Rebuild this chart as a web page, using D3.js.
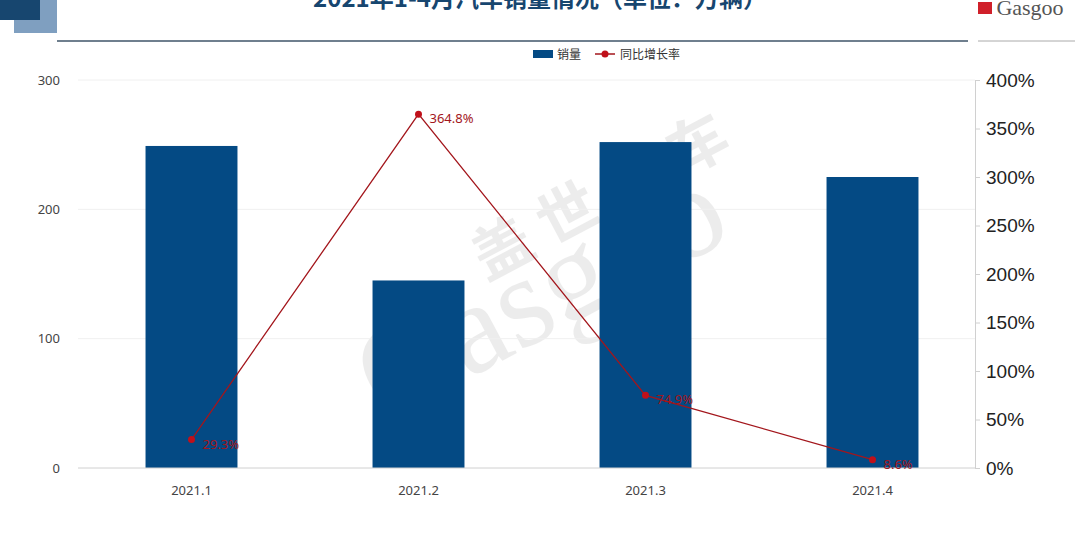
<!DOCTYPE html>
<html><head><meta charset="utf-8">
<script src="https://cdn.jsdelivr.net/npm/d3@7"></script>
<style>body{margin:0;background:#fff;font-family:"Noto Sans CJK SC","Noto Sans",sans-serif}</style>
</head><body><svg id="chart"></svg>
<script>
const months = ["2021.1", "2021.2", "2021.3", "2021.4"];
const sales = [249.0, 145.0, 252.0, 225.0];
const growth = [29.3, 364.8, 74.9, 8.6];
const leftTicks = [0, 100, 200, 300];
const rightTicks = [0, 50, 100, 150, 200, 250, 300, 350, 400];

const svgWidth = 1080, svgHeight = 545;
const margin = {top: 80, right: 105, bottom: 77, left: 78};
const width = svgWidth - margin.left - margin.right,
    height = svgHeight - margin.top - margin.bottom;

const chart = d3.select("#chart").attr("width", svgWidth).attr("height", svgHeight);

// header decoration
chart.append("rect").attr("x", 14).attr("y", 0).attr("width", 43).attr("height", 33).attr("fill", "#7f9fc0");
chart.append("rect").attr("x", 0).attr("y", 0).attr("width", 40).attr("height", 20).attr("fill", "#17466f");
chart.append("line").attr("x1", 57).attr("x2", 968).attr("y1", 41).attr("y2", 41)
    .attr("stroke", "#3f5468").attr("stroke-width", 1.5);
chart.append("text").attr("x", 540).attr("y", 7).attr("text-anchor", "middle")
    .style("font-size", "24px").style("font-weight", "bold").attr("fill", "#17466f")
    .text("2021年1-4月汽车销量情况（单位：万辆）");
chart.append("text").attr("x", 1030).attr("y", 15).attr("text-anchor", "middle")
    .style("font-family", "Liberation Serif").style("font-size", "22px").attr("fill", "#555")
    .text("Gasgoo");
chart.append("rect").attr("x", 978).attr("y", 2).attr("width", 14).attr("height", 12).attr("fill", "#d0202a");
chart.append("line").attr("x1", 978).attr("x2", 1075).attr("y1", 41).attr("y2", 41).attr("stroke", "#aaa");

// watermark
chart.append("text").attr("transform", "translate(560,330) rotate(-28)").attr("text-anchor", "middle")
    .style("font-family", "Liberation Serif").style("font-size", "130px").attr("fill", "#000").attr("opacity", 0.07)
    .text("Gasgoo");
chart.append("text").attr("transform", "translate(610,215) rotate(-28)").attr("text-anchor", "middle")
    .style("font-size", "60px").style("font-weight", "bold").attr("fill", "#000").attr("opacity", 0.07)
    .text("盖 世 汽 车");

const g = chart.append("g").attr("transform", `translate(${margin.left},${margin.top})`);

const x = d3.scaleBand().domain(months).range([0, 908]).paddingInner(0.595).paddingOuter(0.2975);
const yL = d3.scaleLinear().domain([0, 300]).range([height, 0]);
const yR = d3.scaleLinear().domain([0, 400]).range([height, 0]);

g.selectAll(".grid").data(leftTicks.slice(1)).enter().append("line")
    .attr("x1", 0).attr("x2", width).attr("y1", d => yL(d)).attr("y2", d => yL(d))
    .attr("stroke", "#f0f0f0");

g.selectAll(".bar").data(sales).enter().append("rect")
    .attr("x", (d, i) => x(months[i])).attr("width", x.bandwidth())
    .attr("y", d => yL(d)).attr("height", d => height - yL(d)).attr("fill", "#044a84");

g.append("line").attr("x1", 0).attr("x2", width).attr("y1", height).attr("y2", height).attr("stroke", "#d0d0d0");

const yAxisL = g.append("g").call(d3.axisLeft(yL).tickValues(leftTicks).tickSize(0).tickPadding(18));
yAxisL.select(".domain").remove();
yAxisL.selectAll("text").style("font-size", "13px").attr("fill", "#444").style("font-family", "Noto Sans");

const yAxisR = g.append("g").attr("transform", `translate(${width},0)`)
    .call(d3.axisRight(yR).tickValues(rightTicks).tickFormat(d => d + "%").tickSize(5).tickPadding(6));
yAxisR.select(".domain").attr("stroke", "#d0d0d0");
yAxisR.selectAll("line").attr("stroke", "#d0d0d0");
yAxisR.selectAll("text").style("font-size", "19px").attr("fill", "#222").style("font-family", "Liberation Sans");

const xAxis = g.append("g").attr("transform", `translate(0,${height})`)
    .call(d3.axisBottom(x).tickSize(0).tickPadding(18));
xAxis.select(".domain").remove();
xAxis.selectAll("text").style("font-size", "13px").attr("fill", "#444").style("font-family", "Noto Sans");

const line = d3.line().x((d, i) => x(months[i]) + x.bandwidth() / 2).y(d => yR(d));
g.append("path").datum(growth).attr("d", line).attr("fill", "none").attr("stroke", "#a3161c").attr("stroke-width", 1.3);
g.selectAll(".dot").data(growth).enter().append("circle")
    .attr("cx", (d, i) => x(months[i]) + x.bandwidth() / 2).attr("cy", d => yR(d)).attr("r", 3.5).attr("fill", "#c0101a");
g.selectAll(".lbl").data(growth).enter().append("text")
    .attr("x", (d, i) => x(months[i]) + x.bandwidth() / 2 + 11).attr("y", d => yR(d) + 9)
    .style("font-size", "13px").attr("fill", "#a3161c").style("font-family", "Noto Sans")
    .text(d => d.toFixed(1) + "%");

// legend
const lg = chart.append("g").attr("transform", "translate(533,55)");
lg.append("rect").attr("x", 0).attr("y", -5).attr("width", 20).attr("height", 8).attr("fill", "#044a84");
lg.append("text").attr("x", 24).attr("y", 4).style("font-size", "12px").attr("fill", "#333").text("销量");
lg.append("line").attr("x1", 62).attr("x2", 82).attr("y1", -1).attr("y2", -1).attr("stroke", "#a3161c").attr("stroke-width", 1.5);
lg.append("circle").attr("cx", 72).attr("cy", -1).attr("r", 3.5).attr("fill", "#c0101a");
lg.append("text").attr("x", 87).attr("y", 4).style("font-size", "12px").attr("fill", "#333").text("同比增长率");
</script></body></html>
